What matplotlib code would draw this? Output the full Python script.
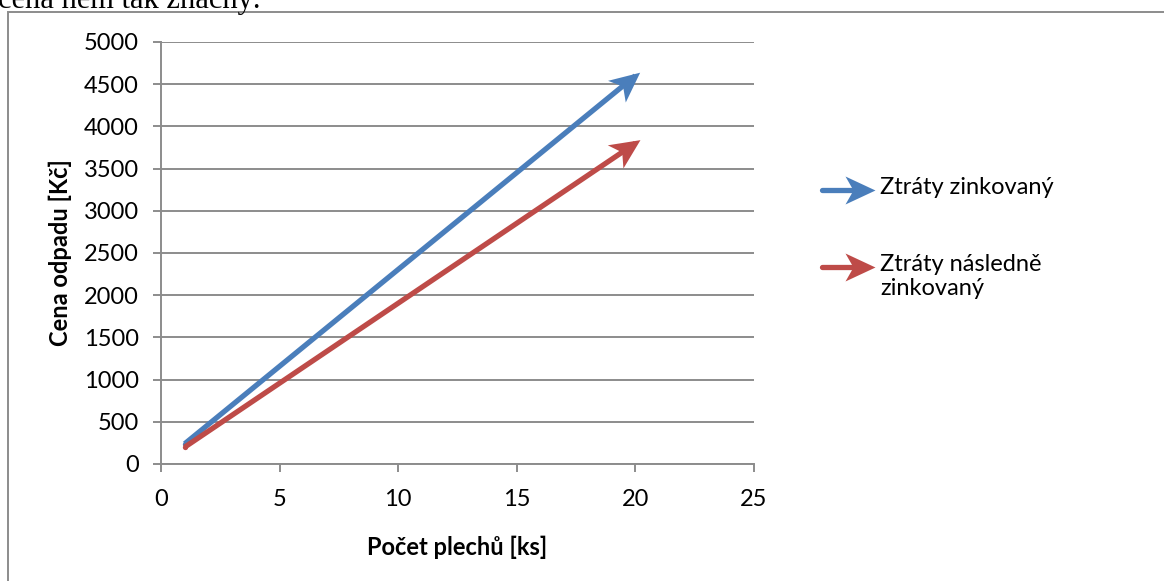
import matplotlib
matplotlib.use("Agg")
import numpy as np
import matplotlib.pyplot as plt
from matplotlib.patches import Rectangle
from matplotlib.path import Path
from matplotlib.markers import MarkerStyle
from matplotlib.transforms import Affine2D

# Data
x_values = [1, 20]
series_names = ["Ztráty zinkovaný", "Ztráty následně\nzinkovaný"]
zinc_values = [240, 4600]
post_zinc_values = [200, 3800]
colors = ["#4a7ebb", "#be4b48"]
x_ticks = [0, 5, 10, 15, 20, 25]
y_ticks = list(range(0, 5001, 500))

plt.rcParams['font.family'] = ['Lato', 'DejaVu Sans']

W, H = 1164, 581
DPI = 100
fig = plt.figure(figsize=(W / DPI, H / DPI), dpi=DPI)

# arrow-head marker (concave back), defined in pixels, tip pointing +x
HEAD_PX = np.array([[6, 0], [-24, 14], [-16, 0], [-24, -14], [6, 0]], dtype=float)
HEAD_CODES = [Path.MOVETO, Path.LINETO, Path.LINETO, Path.LINETO, Path.CLOSEPOLY]
HEAD_MS = 2 * np.max(np.abs(HEAD_PX)) * 72 / DPI


def head_marker(angle_rad):
    return MarkerStyle(Path(HEAD_PX, HEAD_CODES), transform=Affine2D().rotate(angle_rad))


# outer chart frame (only top/left visible)
fig.add_artist(Rectangle((8 / W, -0.1), 1.2, 1 - 12 / H + 0.1, transform=fig.transFigure,
                         fill=False, edgecolor="#8c8c8c", linewidth=1.4))
# cropped document text above the chart
fig.text(-2 / W, 1 - 8 / H, "cena nem tak značný.", family=["Liberation Serif"],
         fontsize=22, ha="left", va="baseline", color="black")

ax = fig.add_axes([161 / W, 1 - 464 / H, (754 - 161) / W, (464 - 42) / H])
ax.set_xlim(0, 25)
ax.set_ylim(0, 5000)
ax.set_xticks(x_ticks)
ax.set_yticks(y_ticks)
ax.yaxis.grid(True, color="#8c8c8c", linewidth=1.4)
ax.set_axisbelow(True)
for s in ["top", "right"]:
    ax.spines[s].set_visible(False)
for s in ["left", "bottom"]:
    ax.spines[s].set_color("#8c8c8c")
    ax.spines[s].set_linewidth(1.4)
ax.tick_params(direction="out", length=6, width=1.4, color="#8c8c8c", labelsize=17)
ax.tick_params(axis="x", pad=12)
ax.tick_params(axis="y", pad=10)
ax.set_xlabel("Počet plechů [ks]", fontsize=17, fontweight="bold")
ax.set_ylabel("Cena odpadu [Kč]", fontsize=17, fontweight="bold")
ax.xaxis.set_label_coords((457 - 161) / 593, (464 - 547) / 422)
ax.yaxis.set_label_coords((60 - 161) / 593, 0.5)
ax.xaxis.label.set_verticalalignment("center")
ax.yaxis.label.set_verticalalignment("center")

for yv, c in zip([zinc_values, post_zinc_values], colors):
    ax.plot(x_values, yv, color=c, linewidth=3.8, solid_capstyle="butt", zorder=3)
    p0 = ax.transData.transform((x_values[-2], yv[-2]))
    p1 = ax.transData.transform((x_values[-1], yv[-1]))
    ang = np.arctan2(p1[1] - p0[1], p1[0] - p0[0])
    ax.plot([x_values[-1]], [yv[-1]], linestyle="none", marker=head_marker(ang),
            markersize=HEAD_MS, color=c, markeredgewidth=0, zorder=4)
    # round start cap
    ax.plot([x_values[0]], [yv[0]], linestyle="none", marker="o", markersize=3.8,
            color=c, markeredgewidth=0, zorder=3)

# legend
legend_y = [190, 267]
for name, c, ly in zip(series_names, colors, legend_y):
    yf = 1 - ly / H
    fig.add_artist(plt.Line2D([822 / W, 862 / W], [yf, yf], color=c, linewidth=3.8,
                              solid_capstyle="round", transform=fig.transFigure))
    fig.add_artist(plt.Line2D([869 / W], [yf], linestyle="none", marker=head_marker(0.0),
                              markersize=HEAD_MS, color=c, markeredgewidth=0,
                              transform=fig.transFigure))
    fig.text(880 / W, yf + 13 / H, name, fontsize=17, va="top", ha="left",
             linespacing=1.2)

fig.savefig("out.png", dpi=DPI)
